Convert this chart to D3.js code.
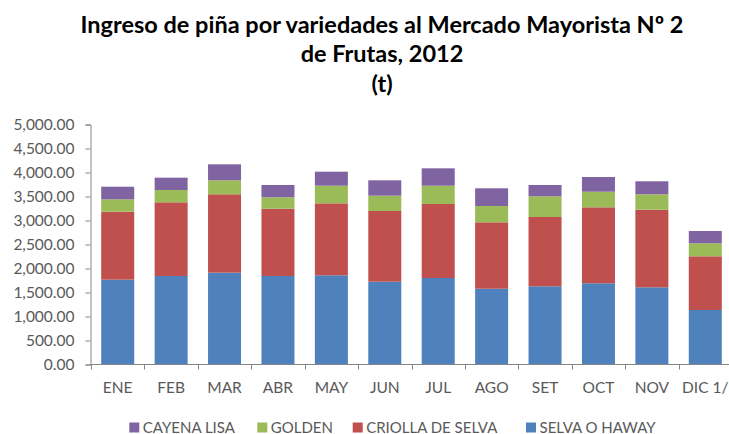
<!DOCTYPE html>
<html>
<head>
<meta charset="utf-8">
<script src="https://cdn.jsdelivr.net/npm/d3@7"></script>
<style>
  html, body { margin: 0; padding: 0; background: #fff; }
  svg { display: block; }
  text { font-family: Lato, "Open Sans", sans-serif; }
</style>
</head>
<body>
<svg id="chart" width="729" height="434"></svg>
<script>
// ---- data ----
const months = ["ENE","FEB","MAR","ABR","MAY","JUN","JUL","AGO","SET","OCT","NOV","DIC 1/"];
const seriesNames = ["SELVA O HAWAY","CRIOLLA DE SELVA","GOLDEN","CAYENA LISA"];
const selvaOHaway    = [1767,1844,1913,1844,1858,1725,1802,1579,1629,1692,1608,1135];
const criollaDeSelva = [1416,1535,1633,1402,1500,1473,1542,1383,1444,1583,1617,1119];
const golden         = [ 258, 256, 291, 237, 367, 319, 381, 340, 431, 325, 321, 271];
const cayenaLisa     = [ 263, 257, 333, 257, 292, 320, 362, 369, 236, 306, 271, 256];
const yTicks = [0,500,1000,1500,2000,2500,3000,3500,4000,4500,5000];
const titleLines = ["Ingreso de piña por variedades al Mercado Mayorista Nº 2","de Frutas, 2012","(t)"];
const legendOrder = ["CAYENA LISA","GOLDEN","CRIOLLA DE SELVA","SELVA O HAWAY"];

// ---- styles / layout ----
const colors = {"SELVA O HAWAY":"#4F81BD","CRIOLLA DE SELVA":"#C0504D","GOLDEN":"#9BBB59","CAYENA LISA":"#8064A2"};
const textGrey = "#595959";
const axisGrey = "#868686";
const plot = {left: 91, right: 732, top: 124.5, bottom: 364.5};

const svg = d3.select("#chart");

const rows = months.map((m, i) => ({
  month: m,
  "SELVA O HAWAY": selvaOHaway[i],
  "CRIOLLA DE SELVA": criollaDeSelva[i],
  "GOLDEN": golden[i],
  "CAYENA LISA": cayenaLisa[i]
}));
const stacked = d3.stack().keys(seriesNames)(rows);

const slot = d3.scaleBand().domain(months).range([plot.left, plot.right]).padding(0);
const x = d3.scaleBand().domain(months).range([plot.left, plot.right]).paddingInner(0.382).paddingOuter(0.191);
const y = d3.scaleLinear().domain([0, 5000]).range([plot.bottom, plot.top]);

// bars
svg.append("g").selectAll("g").data(stacked).join("g")
  .attr("fill", d => colors[d.key])
  .selectAll("rect").data(d => d).join("rect")
  .attr("x", d => x(d.data.month))
  .attr("width", x.bandwidth())
  .attr("y", d => y(d[1]))
  .attr("height", d => y(d[0]) - y(d[1]));

// y axis
const yAxis = svg.append("g").attr("transform", `translate(${plot.left - 0.5},0)`)
  .call(d3.axisLeft(y).tickValues(yTicks).tickFormat(d3.format(",.2f")).tickSize(5).tickPadding(11));
yAxis.select(".domain").attr("stroke", axisGrey);
yAxis.selectAll(".tick line").attr("stroke", axisGrey);
yAxis.selectAll("text").attr("fill", textGrey).style("font-size", "15.5px").style("font-family", "Lato");

// x axis
const xAxisG = svg.append("g").attr("transform", `translate(0,${plot.bottom})`);
xAxisG.append("line").attr("x1", plot.left - 0.5).attr("x2", plot.right).attr("y1", 0).attr("y2", 0).attr("stroke", axisGrey);
const bounds = months.map(m => slot(m)).concat([slot(months[months.length-1]) + slot.bandwidth()]);
xAxisG.selectAll("line.tk").data(bounds).join("line").attr("class","tk")
  .attr("x1", d => Math.round(d) + 0.5).attr("x2", d => Math.round(d) + 0.5)
  .attr("y1", 0).attr("y2", 5).attr("stroke", axisGrey);
xAxisG.selectAll("text").data(months).join("text")
  .attr("x", d => slot(d) + slot.bandwidth()/2)
  .attr("y", 28.5)
  .attr("text-anchor", "middle")
  .attr("fill", textGrey)
  .style("font-size", "15.5px")
  .text(d => d);

// title
const title = svg.append("g");
title.selectAll("text").data(titleLines).join("text")
  .attr("x", 382)
  .attr("y", (d, i) => 32.5 + i * 29.7)
  .attr("text-anchor", "middle")
  .attr("fill", "#000")
  .style("font-size", "23.5px")
  .style("font-weight", "bold")
  .text(d => d);

// legend
const legendX = [129.3, 257.3, 352.7, 526];
const lg = svg.append("g");
legendOrder.forEach((name, i) => {
  lg.append("rect").attr("x", legendX[i]).attr("y", 422.5).attr("width", 10).attr("height", 10).attr("fill", colors[name]);
  lg.append("text").attr("x", legendX[i] + 13.5).attr("y", 432.5)
    .attr("fill", textGrey).style("font-size", "15px").text(name);
});
</script>
</body>
</html>
